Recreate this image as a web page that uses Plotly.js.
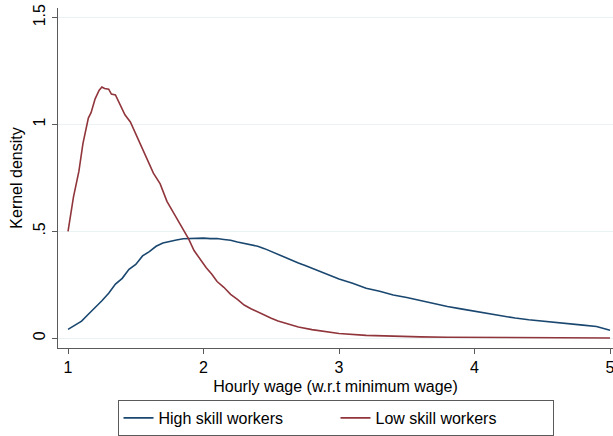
<!DOCTYPE html>
<html>
<head>
<meta charset="utf-8">
<script src="https://cdn.plot.ly/plotly-3.0.1.min.js"></script>
<style>
  html, body { margin: 0; padding: 0; background: #ffffff; }
  #plot { width: 613px; height: 436px; }
</style>
</head>
<body>
<div id="plot"></div>
<script>
// kernel density estimates
const highX = [1.00, 1.05, 1.10, 1.15, 1.20, 1.25, 1.30, 1.35, 1.40, 1.45, 1.50, 1.55, 1.60, 1.65,
  1.70, 1.75, 1.80, 1.85, 1.90, 1.95, 2.00, 2.05, 2.10, 2.15, 2.20, 2.25, 2.30, 2.35, 2.40, 2.45,
  2.50, 2.55, 2.60, 2.65, 2.70, 2.75, 2.80, 2.85, 2.90, 2.95, 3.00, 3.10, 3.20, 3.30, 3.40, 3.50,
  3.60, 3.70, 3.80, 3.90, 4.00, 4.10, 4.20, 4.30, 4.40, 4.50, 4.60, 4.70, 4.80, 4.90, 4.95, 5.00];
const highY = [0.041, 0.060, 0.080, 0.112, 0.142, 0.175, 0.210, 0.253, 0.280, 0.322, 0.345, 0.385,
  0.405, 0.430, 0.445, 0.453, 0.459, 0.465, 0.467, 0.468, 0.468, 0.466, 0.466, 0.462, 0.458, 0.450,
  0.444, 0.438, 0.430, 0.419, 0.405, 0.391, 0.377, 0.365, 0.352, 0.340, 0.328, 0.316, 0.302, 0.290,
  0.277, 0.257, 0.234, 0.220, 0.202, 0.190, 0.176, 0.160, 0.148, 0.137, 0.126, 0.115, 0.104, 0.094,
  0.086, 0.079, 0.072, 0.067, 0.061, 0.055, 0.047, 0.037];

const lowX = [1.00, 1.04, 1.08, 1.11, 1.15, 1.17, 1.20, 1.23, 1.25, 1.27, 1.30, 1.32, 1.35, 1.38,
  1.42, 1.46, 1.50, 1.53, 1.58, 1.63, 1.68, 1.73, 1.78, 1.84, 1.89, 1.93, 1.97, 2.02, 2.06, 2.10,
  2.15, 2.20, 2.25, 2.30, 2.35, 2.40, 2.45, 2.50, 2.55, 2.60, 2.65, 2.70, 2.80, 2.90, 3.00, 3.20,
  3.40, 3.60, 3.80, 4.00, 4.50, 5.00];
const lowY = [0.50, 0.66, 0.78, 0.91, 1.03, 1.055, 1.12, 1.16, 1.175, 1.168, 1.165, 1.142, 1.138,
  1.10, 1.045, 1.012, 0.955, 0.910, 0.846, 0.772, 0.722, 0.640, 0.585, 0.516, 0.465, 0.410, 0.372,
  0.330, 0.300, 0.265, 0.238, 0.205, 0.182, 0.155, 0.138, 0.122, 0.107, 0.093, 0.080, 0.070, 0.062,
  0.052, 0.040, 0.030, 0.022, 0.013, 0.008, 0.006, 0.004, 0.003, 0.002, 0.001];

const yTickVals = [0, 0.5, 1, 1.5];
const yTickText = ["0", ".5", "1", "1.5"];
const xTickVals = [1, 2, 3, 4, 5];

const fontFamily = "Liberation Sans, Arial, sans-serif";
const axisColor = "#5a5a5a";
const gridColor = "#eaf2f3";

const traces = [
  {
    x: highX, y: highY, type: "scatter", mode: "lines",
    name: "High skill workers",
    line: { color: "#1a476f", width: 1.6 },
  },
  {
    x: lowX, y: lowY, type: "scatter", mode: "lines",
    name: "Low skill workers",
    line: { color: "#90353b", width: 1.6 },
  },
];

const layout = {
  width: 613,
  height: 436,
  paper_bgcolor: "#ffffff",
  plot_bgcolor: "#ffffff",
  font: { family: fontFamily, size: 14, color: "#000000" },
  margin: { l: 58, r: 0, t: 8, b: 82 },
  xaxis: {
    range: [0.926, 5.022],
    tickvals: xTickVals,
    tickfont: { family: fontFamily, size: 16, color: "#000000" },
    ticks: "outside", ticklen: 5, tickcolor: axisColor,
    ticklabeloverflow: "allow",
    showline: true, linecolor: axisColor, linewidth: 1.2,
    showgrid: false, zeroline: false,
    title: {
      text: "Hourly wage (w.r.t minimum wage)", standoff: 5,
      font: { family: fontFamily, size: 16, color: "#000000" },
    },
  },
  yaxis: {
    range: [-0.046, 1.545],
    tickvals: yTickVals, ticktext: yTickText, tickangle: -90,
    tickfont: { family: fontFamily, size: 16, color: "#000000" },
    ticks: "outside", ticklen: 5, tickcolor: axisColor,
    showline: true, linecolor: axisColor, linewidth: 1.2,
    showgrid: true, gridcolor: gridColor, zeroline: false,
    title: {
      text: "Kernel density", standoff: 4,
      font: { family: fontFamily, size: 16, color: "#000000" },
    },
  },
  showlegend: true,
  legend: {
    orientation: "h",
    x: 0.5, xanchor: "center",
    y: -0.153, yanchor: "top",
    bordercolor: axisColor, borderwidth: 1,
    entrywidth: 172,
    font: { family: fontFamily, size: 16, color: "#000000" },
  },
};

Plotly.newPlot("plot", traces, layout, { displayModeBar: false, staticPlot: true });
</script>
</body>
</html>
